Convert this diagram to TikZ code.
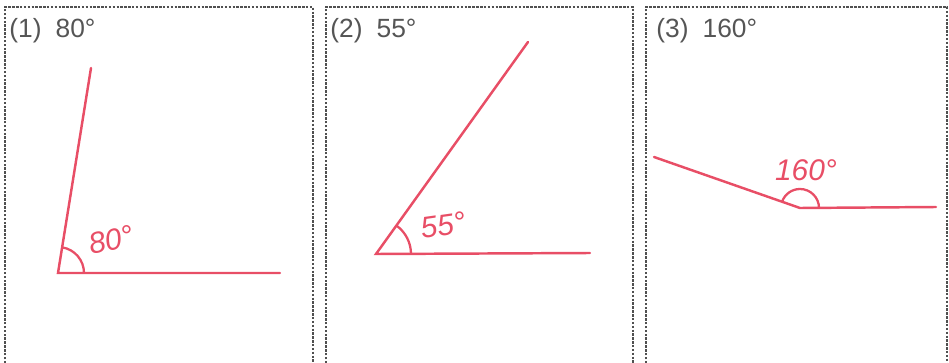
\documentclass[tikz,border=0pt]{standalone}
\usepackage{fontspec}
\setmainfont{Liberation Sans}
\usetikzlibrary{positioning}
\definecolor{PenRed}{RGB}{232,78,102}
\definecolor{BoxGray}{RGB}{80,80,80}
\definecolor{TitleGray}{RGB}{85,85,85}
\tikzset{
  panel/.style={draw=BoxGray,line width=0.8pt,dash pattern=on 1.4pt off 0.8pt},
  ray/.style={draw=PenRed,line width=1.4pt,line cap=round},
  anglemark/.style={draw=PenRed,line width=1.3pt},
  title/.style={anchor=west,text=TitleGray,font=\fontsize{15}{17}\selectfont,inner sep=0pt},
  measure/.style={text=PenRed,font=\fontsize{17}{19}\selectfont\itshape,inner sep=0pt}
}

\begin{document}
\begin{tikzpicture}[x=0.02cm,y=0.02cm]
      \useasboundingbox (0,0) rectangle (949,362);
      % dashed panels
      \draw[panel] (5,-5) -- (5,355) -- (313,355) -- (313,-5);
      \draw[panel] (326,-5) -- (326,355) -- (633,355) -- (633,-5);
      \draw[panel] (646,-5) -- (646,355) -- (947,355) -- (947,-5);
      % titles
      \node[title] (t1) at (9,331) {(1)\hspace{8pt}80°};
      \node[title] (t2) at (330,331) {(2)\hspace{8pt}55°};
      \node[title] (t3) at (656,331) {(3)\hspace{8pt}160°};
      % (1) 80 degrees
      \coordinate (v1) at (58,89);
      \coordinate (a1) at (91,294);
      \coordinate (b1) at (280,89);
      \draw[ray] (a1) -- (v1) -- (b1);
      \draw[anglemark] (v1) ++(0:26) arc[start angle=0,end angle=81,radius=26];
      \node[measure,rotate=12] (m1) at (111,122) {80°};
      % (2) 55 degrees
      \coordinate (v2) at (376,108);
      \coordinate (a2) at (528,320);
      \coordinate (b2) at (590,109);
      \draw[ray] (a2) -- (v2) -- (b2);
      \draw[anglemark] (v2) ++(0:35) arc[start angle=0,end angle=54,radius=35];
      \node[measure,rotate=8] (m2) at (443,137) {55°};
      % (3) 160 degrees
      \coordinate (v3) at (800,154);
      \coordinate (a3) at (654,205);
      \coordinate (b3) at (936,155);
      \draw[ray] (a3) -- (v3) -- (b3);
      \draw[anglemark] (v3) ++(0:19) arc[start angle=0,end angle=160,radius=19];
      \node[measure] (m3) at (806,192) {160°};
    \end{tikzpicture}
\end{document}
